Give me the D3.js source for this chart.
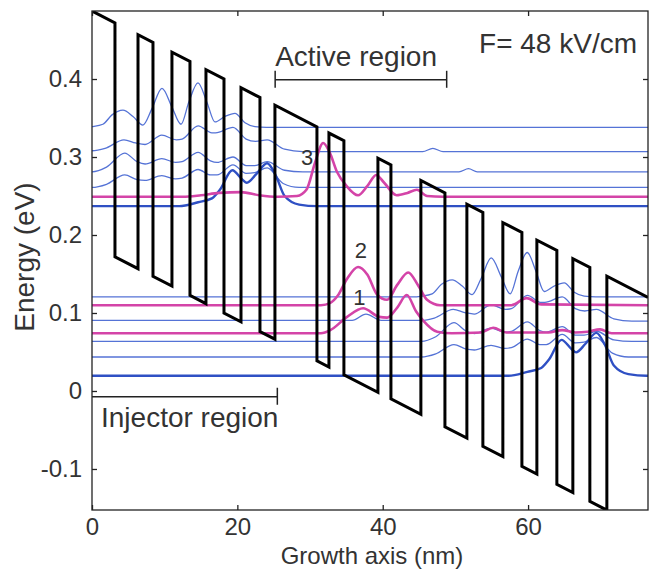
<!DOCTYPE html>
<html>
<head>
<meta charset="utf-8">
<script src="https://cdn.jsdelivr.net/npm/d3@7"></script>
<style>
    body { margin: 0; background: #fff; }
    svg text { font-family: "Liberation Sans", Arial, sans-serif; fill: #333; }
</style>
</head>
<body>
<div id="chart"></div>
<script>
'use strict';

// barriers along the growth axis, [start, end] in nm
const barriers = [
    [0, 3.16], [6.33, 8.39], [11.0, 13.48], [15.68, 18.16], [20.5, 23.11],
    [25.17, 30.95], [32.6, 34.66], [39.34, 41.13], [45.25, 48.56],
    [51.58, 53.78], [56.53, 59.15], [61.21, 63.96], [66.16, 68.5], [70.84, 76.5]
];
const growthLength = 76.5;   // nm
const fieldKVcm = 48;        // kV/cm
const barrierHeight = 0.30;  // eV
const bandTopAtZero = 0.4872; // eV, barrier top at x = 0
const periodLength = 45.3;   // nm, one injector + active region

const xTicks = [0, 20, 40, 60];
const yTicks = [-0.1, 0, 0.1, 0.2, 0.3, 0.4];
const yLimits = [-0.1526, 0.4872];

// injector states of the upper period, [nm, eV]; the lower period repeats them
const injectorA = [[-46, 0.338], [-1, 0.338], [0, 0.339], [1.5, 0.342], [2.75, 0.354], [4.26, 0.360],
    [5.64, 0.352], [7.0, 0.341], [8.25, 0.362], [9.63, 0.388], [11.0, 0.364], [12.24, 0.342],
    [13.34, 0.371], [14.58, 0.395], [15.82, 0.370], [16.92, 0.345], [18.29, 0.352], [19.67, 0.356],
    [21.05, 0.344], [22.42, 0.339], [24, 0.338], [76.5, 0.338]];
const injectorB = [[-46, 0.308], [-9.5, 0.308], [-7.6, 0.316], [-5.5, 0.308], [0, 0.308], [1.8, 0.311],
    [4.4, 0.322], [6.0, 0.318], [7.3, 0.316], [9.6, 0.328], [11.6, 0.322], [12.4, 0.323], [14.6, 0.340],
    [16.5, 0.331], [17.0, 0.331], [19.4, 0.338], [21.2, 0.323], [22.5, 0.320], [24.1, 0.322],
    [26.5, 0.310], [29, 0.307], [45.5, 0.307], [46.9, 0.311], [48.3, 0.307], [76.5, 0.307]];
const injectorC = [[-46, 0.281], [0, 0.281], [2.0, 0.287], [4.5, 0.305], [6.2, 0.294], [7.3, 0.291],
    [9.6, 0.298], [11.5, 0.293], [12.4, 0.294], [14.6, 0.306], [16.3, 0.295], [17.2, 0.293],
    [19.4, 0.300], [21.2, 0.289], [22.4, 0.289], [24.1, 0.294], [26.5, 0.283], [29, 0.281],
    [50.5, 0.281], [51.8, 0.285], [53, 0.281], [76.5, 0.281]];
const injectorD = [[-46, 0.261], [0, 0.261], [2, 0.265], [4.5, 0.277], [6.2, 0.271], [7.3, 0.270],
    [9.6, 0.276], [11.5, 0.272], [12.4, 0.273], [14.6, 0.284], [16.3, 0.277], [17.2, 0.277],
    [19.4, 0.290], [21.2, 0.279], [22.4, 0.280], [24.1, 0.286], [26.3, 0.266], [28.5, 0.261], [76.5, 0.261]];
const injectorGround = [[-46, 0.237], [12, 0.237], [14.6, 0.242], [16.5, 0.247], [17.6, 0.258],
    [19.3, 0.283], [20.7, 0.271], [21.3, 0.267], [22.6, 0.278], [24.1, 0.292], [25.3, 0.276],
    [26.5, 0.250], [28.5, 0.239], [31, 0.237], [76.5, 0.237]];

// active region states
const state3 = [[0, 0.249], [12.5, 0.249], [15, 0.251], [17.5, 0.254], [20.5, 0.255], [23, 0.251],
    [25.5, 0.249], [28.2, 0.250], [29.5, 0.258], [30.7, 0.293], [31.8, 0.318], [32.7, 0.306],
    [33.7, 0.281], [35.1, 0.262], [36.6, 0.251], [37.9, 0.263], [39.1, 0.277], [40.2, 0.267],
    [41.9, 0.251], [43.4, 0.254], [44.7, 0.258], [46.1, 0.250], [48.3, 0.249], [76.5, 0.249]];
const state2 = [[0, 0.110], [31.5, 0.110], [32.8, 0.113], [33.8, 0.122], [35.1, 0.144], [36.6, 0.159],
    [37.9, 0.149], [39.2, 0.124], [40.6, 0.117], [42.0, 0.136], [43.5, 0.152], [44.9, 0.135],
    [46.1, 0.117], [47.9, 0.110], [57.7, 0.110], [59.8, 0.119], [61.8, 0.111], [76.5, 0.110]];
const state1 = [[0, 0.074], [31.5, 0.074], [32.8, 0.078], [35.1, 0.095], [37.3, 0.106], [39.5, 0.095],
    [40.6, 0.094], [42.0, 0.107], [43.3, 0.123], [44.6, 0.102], [45.6, 0.090], [47.5, 0.076],
    [49.5, 0.074], [53.5, 0.075], [55.2, 0.081], [57, 0.075], [62.8, 0.075], [64.7, 0.078],
    [66.5, 0.075], [68.2, 0.076], [69.9, 0.079], [71.5, 0.074], [76.5, 0.074]];

const blueThin = '#5573d6';
const blueThick = '#2f50c4';
const magenta = '#d444a8';

const width = 653, height = 569;
const margin = { left: 92, right: 5, top: 11, bottom: 59 };

const svg = d3.select('#chart').append('svg')
    .attr('width', width)
    .attr('height', height);

const x = d3.scaleLinear().domain([0, growthLength]).range([margin.left, width - margin.right]);
const y = d3.scaleLinear().domain(yLimits).range([height - margin.bottom, margin.top]);

svg.append('clipPath').attr('id', 'plot-clip')
    .append('rect')
    .attr('x', x(0)).attr('y', y(yLimits[1]))
    .attr('width', x(growthLength) - x(0))
    .attr('height', y(yLimits[0]) - y(yLimits[1]));

const line = d3.line()
    .x(d => x(d[0]))
    .y(d => y(d[1]))
    .curve(d3.curveMonotoneX);

// eV per nm from the field
const fieldEV = fieldKVcm * 1e-4;

function wellEdge(xv) {
    return bandTopAtZero - barrierHeight - fieldEV * xv;
}

function bandProfile() {
    var pts = [];
    barriers.forEach((b) => {
        var xs = b[0], xe = b[1];
        if (xs > 0) {
            pts.push([xs, wellEdge(xs)]);
        }
        pts.push([xs, wellEdge(xs) + barrierHeight]);
        pts.push([xe, wellEdge(xe) + barrierHeight]);
        if (xe < growthLength) {
            pts.push([xe, wellEdge(xe)]);
        }
    });
    return pts;
}

function shiftPeriod(data) {
    return data.map(d => [d[0] + periodLength, d[1] - fieldEV * periodLength]);
}

const curves = svg.append('g').attr('clip-path', 'url(#plot-clip)');

function drawState(data, color, w) {
    curves.append('path')
        .attr('d', line(data))
        .attr('fill', 'none')
        .attr('stroke', color)
        .attr('stroke-width', w);
}

const injectorStates = [injectorA, injectorB, injectorC, injectorD];

// upper and lower period injector states
[0, 1].forEach((period) => {
    injectorStates.forEach((s) => {
        drawState(period ? shiftPeriod(s) : s, blueThin, 1.3);
    });
    drawState(period ? shiftPeriod(injectorGround) : injectorGround, blueThick, 2.4);
});

drawState(state3, magenta, 2.6);
drawState(state2, magenta, 2.6);
drawState(state1, magenta, 2.6);

// conduction band edge
svg.append('path')
    .attr('clip-path', 'url(#plot-clip)')
    .attr('d', d3.line().x(d => x(d[0])).y(d => y(d[1]))(bandProfile()))
    .attr('fill', 'none')
    .attr('stroke', '#000')
    .attr('stroke-width', 3)
    .attr('stroke-linejoin', 'miter');

// axes, ticks inward on all sides
const axisColor = '#222';
const tickLen = 5;

svg.append('rect')
    .attr('x', x(0)).attr('y', y(yLimits[1]))
    .attr('width', x(growthLength) - x(0))
    .attr('height', y(yLimits[0]) - y(yLimits[1]))
    .attr('fill', 'none')
    .attr('stroke', axisColor)
    .attr('stroke-width', 1.3);

function styleAxis(g) {
    g.select('.domain').remove();
    g.selectAll('.tick line').attr('stroke', axisColor).attr('stroke-width', 1.3);
    g.selectAll('.tick text')
        .attr('font-family', '"Liberation Sans", Arial, sans-serif')
        .attr('font-size', 24)
        .attr('fill', '#333');
}

svg.append('g')
    .attr('transform', `translate(0,${y(yLimits[0])})`)
    .call(d3.axisBottom(x).tickValues(xTicks).tickFormat(d3.format('d')).tickSize(-tickLen).tickPadding(8))
    .call(styleAxis);

svg.append('g')
    .attr('transform', `translate(0,${y(yLimits[1])})`)
    .call(d3.axisTop(x).tickValues(xTicks).tickFormat('').tickSize(-tickLen))
    .call(styleAxis);

svg.append('g')
    .attr('transform', `translate(${x(0)},0)`)
    .call(d3.axisLeft(y).tickValues(yTicks).tickFormat(d => d === 0 ? '0' : d.toFixed(1)).tickSize(-tickLen).tickPadding(10))
    .call(styleAxis);

svg.append('g')
    .attr('transform', `translate(${x(growthLength)},0)`)
    .call(d3.axisRight(y).tickValues(yTicks).tickFormat('').tickSize(-tickLen))
    .call(styleAxis);

// axis titles
svg.append('text')
    .attr('x', 372).attr('y', 564)
    .attr('text-anchor', 'middle')
    .attr('font-size', 24)
    .text('Growth axis (nm)');

svg.append('text')
    .attr('transform', 'translate(34,257) rotate(-90)')
    .attr('text-anchor', 'middle')
    .attr('font-size', 28)
    .text('Energy (eV)');

// annotations
svg.append('text')
    .attr('x', 637).attr('y', 53)
    .attr('text-anchor', 'end')
    .attr('font-size', 28)
    .text('F= 48 kV/cm');

function bracket(x1, x2, yv, ticks) {
    var g = svg.append('g').attr('stroke', axisColor).attr('stroke-width', 1.5);
    g.append('line').attr('x1', x(x1)).attr('x2', x(x2)).attr('y1', y(yv)).attr('y2', y(yv));
    ticks.forEach((t) => {
        g.append('line').attr('x1', x(t)).attr('x2', x(t)).attr('y1', y(yv) - 9).attr('y2', y(yv) + 8);
    });
}

bracket(25.2, 48.8, 0.399, [25.2, 48.8]);
svg.append('text')
    .attr('x', x(25.2)).attr('y', 66)
    .attr('font-size', 28)
    .text('Active region');

bracket(0, 25.5, -0.0074, [25.5]);
svg.append('text')
    .attr('x', 101).attr('y', 427)
    .attr('font-size', 28)
    .text('Injector region');

const stateLabels = [['3', 29.6, 0.290], ['2', 37.0, 0.171], ['1', 36.8, 0.110]];
stateLabels.forEach((s) => {
    svg.append('text')
        .attr('x', x(s[1])).attr('y', y(s[2]))
        .attr('text-anchor', 'middle')
        .attr('font-size', 22)
        .text(s[0]);
});
</script>
</body>
</html>
